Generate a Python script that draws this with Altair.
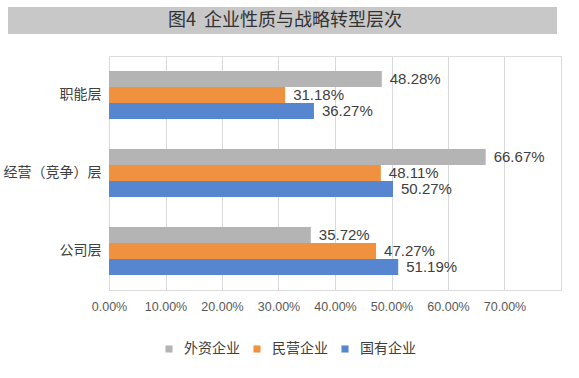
import altair as alt
import pandas as pd

categories = ["职能层", "经营（竞争）层", "公司层"]
series = ["外资企业", "民营企业", "国有企业"]
foreign = [0.4828, 0.6667, 0.3572]
private = [0.3118, 0.4811, 0.4727]
state = [0.3627, 0.5027, 0.5119]
colors = ["#B4B4B4", "#F0913F", "#5586CF"]
x_ticks = [0, 0.1, 0.2, 0.3, 0.4, 0.5, 0.6, 0.7, 0.8]
title_text = "图4  企业性质与战略转型层次"

rows = []
for s, vals in zip(series, [foreign, private, state]):
    for c, v in zip(categories, vals):
        rows.append({"category": c, "series": s, "value": v})
df = pd.DataFrame(rows)

FONT = "Noto Sans CJK SC"
NUM = "Liberation Sans"
W, H = 452, 234

y_enc = alt.Y("category:N", sort=categories, title=None,
              scale=alt.Scale(paddingInner=0.38, paddingOuter=0.19),
              axis=alt.Axis(domain=False, ticks=False, labelFont=FONT, labelFontSize=14,
                            labelColor="#404040", labelPadding=8))
yoff = alt.YOffset("series:N", sort=series)
x_enc = alt.X("value:Q", title=None,
              scale=alt.Scale(domain=[0, 0.8], nice=False),
              axis=alt.Axis(values=x_ticks, domain=False, ticks=False, grid=True,
                            gridColor="#D9D9D9", gridWidth=1, labelFlush=False,
                            labelExpr="datum.value >= 0.79 ? '' : format(datum.value, '.2%')",
                            labelFont=NUM, labelFontSize=12.5, labelColor="#595959",
                            labelPadding=10))

bars = alt.Chart(df).mark_bar(size=16).encode(
    x=x_enc, y=y_enc, yOffset=yoff,
    color=alt.Color("series:N", sort=series,
                    scale=alt.Scale(domain=series, range=colors),
                    legend=alt.Legend(title=None, orient="none", direction="horizontal",
                                      legendX=53, legendY=286, symbolType="square",
                                      symbolSize=50, labelFont=FONT, labelFontSize=14,
                                      labelColor="#404040", columnPadding=10,
                                      labelOffset=8)),
)

labels = alt.Chart(df).mark_text(align="left", baseline="middle", dx=8, font=NUM,
                                 fontSize=15, color="#404040").encode(
    x="value:Q", y=alt.Y("category:N", sort=categories), yOffset=yoff,
    text=alt.Text("value:Q", format=".2%"),
)

title_df = pd.DataFrame({"t": [title_text.replace(" ", "\u00a0")]})
title_bg = alt.Chart(title_df).mark_rect(color="#C8C8C8", clip=False).encode(
    x=alt.value(-101), x2=alt.value(448), y=alt.value(-49), y2=alt.value(-22))
title_txt = alt.Chart(title_df).mark_text(font=FONT, fontSize=18, color="#333333",
                                          align="center", baseline="middle", clip=False).encode(
    x=alt.value(176), y=alt.value(-35), text="t:N")

chart = alt.layer(bars, labels, title_bg, title_txt).properties(
    width=W, height=H,
    autosize=alt.AutoSizeParams(type="none"),
    padding={"left": 109, "top": 56, "right": 18, "bottom": 88},
).configure_view(stroke=None).configure(background="white")

chart.save("out.html", embed_options={"renderer": "svg", "actions": False})
